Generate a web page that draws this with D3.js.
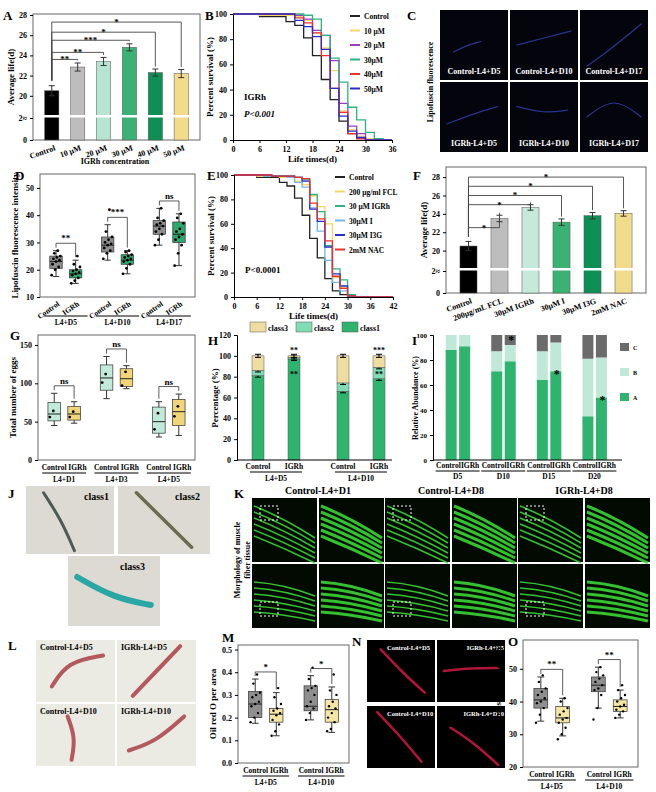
<!DOCTYPE html>
<html><head><meta charset="utf-8">
<script src="https://cdn.jsdelivr.net/npm/d3@7"></script>
<style>body{margin:0;background:#fff}text{font-family:"Liberation Serif",serif;font-weight:bold}</style>
</head><body>
<script>
// ---- data ----
var concCats = ["Control","10 μM","20 μM","30 μM","40 μM","50 μM"];
var concLife = [20.5,22.85,23.4,24.8,22.3,22.2];
var concErr = [0.5,0.4,0.4,0.35,0.35,0.4];
var concColors = ["#000","#bdbdbd","#b7e4d0","#3bb273","#0f8f55","#f1dc8c"];

var survNamesB = ["Control","10 μM","20 μM","30μM","40μM","50μM"];
var survColorsB = ["#222","#f7d56a","#9b3fc0","#2fb37f","#e8322f","#2b2fc8"];
var survB = [
 [[0,100],[6,98],[12,94],[14,91],[16,81],[18,67],[20,48],[22,32],[24,15],[26,5],[28,2],[30,0],[36,0]],
 [[0,100],[6,99],[14,98],[16,95],[18,85],[20,73],[22,55],[24,23],[26,8],[28,3],[30,1],[32,0],[36,0]],
 [[0,100],[14,99],[16,96],[18,87],[20,83],[22,63],[24,29],[26,11],[28,5],[30,0],[36,0]],
 [[0,100],[16,99],[18,96],[20,83],[22,65],[24,46],[26,26],[28,16],[30,6],[32,1],[34,0],[36,0]],
 [[0,100],[14,97],[16,93],[18,85],[20,67],[22,41],[24,22],[26,5],[28,1],[30,0],[36,0]],
 [[0,100],[14,95],[16,90],[18,82],[20,72],[22,41],[24,19],[26,7],[28,2],[30,0],[36,0]]
];
var survNamesE = ["Control","200 μg/ml FCL","30 μM IGRh","30μM I","30μM I3G","2mM NAC"];
var survColorsE = ["#222","#f7d56a","#2fb37f","#74b6ea","#2b2fc8","#e8322f"];
var survE = [
 [[0,100],[6,98],[12,94],[14,91],[16,81],[18,67],[20,48],[22,32],[24,15],[26,5],[28,2],[30,0],[42,0]],
 [[0,100],[6,99],[12,98],[16,95],[18,92],[20,83],[22,74],[24,60],[26,16],[28,8],[30,2],[32,0],[42,0]],
 [[0,100],[8,99],[16,98],[18,96],[20,84],[22,70],[24,42],[26,23],[28,14],[30,2],[32,0],[42,0]],
 [[0,100],[8,99],[14,98],[16,94],[18,90],[20,73],[22,54],[24,30],[26,12],[28,5],[30,0],[42,0]],
 [[0,100],[10,99],[16,98],[18,95],[20,72],[22,62],[24,41],[26,19],[28,9],[30,1],[32,0],[42,0]],
 [[0,100],[10,99],[16,98],[18,97],[20,77],[22,64],[24,46],[26,17],[28,7],[30,1],[32,0],[42,0]]
];

var treatCats = ["Control","200μg/mL FCL","30μM IGRh","30μM I","30μM I3G","2mM NAC"];
var treatLife = [20.5,23.5,24.7,23.1,23.8,24.05];
var treatErr = [0.5,0.35,0.3,0.35,0.35,0.3];
var treatColors = ["#000","#bdbdbd","#c6ead9","#3bb273","#0f8f55","#f1dc8c"];

// box stats: [min, q1, median, q3, max]
var lipoGroups = ["L4+D5","L4+D10","L4+D17"];
var lipoCtrl = [[17.5,20.5,23,25,27],[23.5,26.5,29,32,36.5],[29,33,36,38,42.5]];
var lipoIgrh = [[15,17,18.5,20,23.5],[18.5,22,23.5,25.5,27],[21.5,30,33,37.5,40.5]];
var lipoCtrlPts = [[18,20,21,22,23,23.5,24,24.5,25,26,27],[24,26,27,28,29,29.5,30,31,32,34,42],[29,31,33,34,35,36,36.5,37,38,39,42.5]];
var lipoIgrhPts = [[15,16,17,18,18.5,19,19.5,20,21,22,25],[18.5,20.5,22,23,23.5,24,24.5,25,25.5,26.5,27],[21.5,26,29,31,32,33,34,35,37,39,40.5]];
var lipoSig = ["**","***","ns"];

var eggGroups = ["L4+D1","L4+D3","L4+D5"];
var eggCtrl = [[45,51,60,75,87],[80,91,107,124,135],[30,35,50,69,76]];
var eggIgrh = [[48,52,60,70,76],[93,96,106,119,123],[32,45,63,79,86]];
var eggCtrlPts = [[56,64],[101,112],[40,61]];
var eggIgrhPts = [[56,63],[97,115],[57,70]];

var classNames = ["class1","class2","class3"];
var classColors = ["#2fb36f","#7fdcb4","#eedca0"];
var classBars = ["Control","IGRh","Control","IGRh"];
var classGroups = ["L4+D5","L4+D10"];
var class1 = [81,97,66,78];
var class2 = [5,1.5,8,11];
var class3 = [14,1.5,26,11];
var classSig = ["","**","","***"];

var abunCats = ["D5","D10","D15","D20"];
var abunA = [88,91,71,79,64,71,35,50];
var abunB = [12,9,16,13,23,23,46,32];
var abunC = [0,0,13,8,13,6,19,18];

var oilCtrl = [[0.175,0.2,0.26,0.315,0.37],[0.19,0.23,0.25,0.34,0.385]];
var oilIgrh = [[0.12,0.18,0.215,0.24,0.31],[0.135,0.18,0.235,0.28,0.335]];
var oilCtrlPts = [[0.18,0.2,0.22,0.25,0.26,0.27,0.29,0.3,0.31,0.35,0.39],[0.19,0.22,0.24,0.25,0.27,0.3,0.32,0.33,0.34,0.37,0.42]];
var oilIgrhPts = [[0.12,0.14,0.17,0.19,0.21,0.22,0.23,0.24,0.26,0.29,0.33],[0.14,0.15,0.18,0.2,0.22,0.24,0.25,0.27,0.3,0.32,0.39]];

var nileCtrl = [[34,38,40.5,44,47.5],[38,43,45,47.5,50.5]];
var nileIgrh = [[29.5,33.5,35,38.5,41],[35,37,38.5,40.5,43.5]];
var nileCtrlPts = [[33.5,36,38,39.5,40,41,42,43,44,46,48],[34.5,38,42,43.5,44,45,46,47,48,49,50.5]];
var nileIgrhPts = [[28.5,30,32,33.5,34.5,35,36,37,38,40,41],[35,36,37,37.5,38.5,39,40,41,42,43.5,45]];

// ---- drawing ----
var svg = d3.select("body").append("svg").attr("width",656).attr("height",792);

function txt(s,x,y,size,anchor,rot){
  var t = svg.append("text").attr("x",x).attr("y",y).text(s).attr("font-size",size||8)
    .attr("text-anchor",anchor||"start");
  if(rot) t.attr("transform","rotate("+rot+","+x+","+y+")");
  return t;
}
function styleAxis(g,fs){
  g.selectAll("text").attr("font-size",fs||8).attr("font-family","Liberation Serif").attr("font-weight","bold").attr("fill","#000");
  g.selectAll("path,line").attr("stroke","#000").attr("stroke-width",1);
}
function frame(x,y,w,h){
  svg.append("rect").attr("x",x).attr("y",y).attr("width",w).attr("height",h)
    .attr("fill","none").attr("stroke","#666").attr("stroke-width",1);
}

function barPanel(o){
  var x = d3.scaleBand().domain(o.cats).range([o.x,o.x+o.w]).padding(0.45);
  var y = d3.scaleLinear().domain([0,2,18,o.top]).range([o.y+o.h,o.y+o.h-22,o.y+o.h-24,o.y]);
  frame(o.x,o.y,o.w,o.h);
  o.cats.forEach(function(c,i){
    svg.append("rect").attr("x",x(c)).attr("width",x.bandwidth()).attr("y",y(o.vals[i]))
      .attr("height",y(0)-y(o.vals[i])).attr("fill",o.colors[i]).attr("stroke","#555").attr("stroke-width",0.5);
    var cx = x(c)+x.bandwidth()/2;
    svg.append("path").attr("d","M"+(cx-3)+","+y(o.vals[i]+o.errs[i])+"h6M"+cx+","+y(o.vals[i]+o.errs[i])+"V"+y(o.vals[i]-o.errs[i])+"M"+(cx-3)+","+y(o.vals[i]-o.errs[i])+"h6")
      .attr("stroke","#333").attr("fill","none");
    txt(c,cx+4,o.y+o.h+10,8,"end",-20);
  });
  svg.append("rect").attr("x",o.x+1).attr("y",y(2)-3).attr("width",o.w-2).attr("height",2.5).attr("fill","#fff");
  var ax = svg.append("g").attr("transform","translate("+o.x+",0)")
    .call(d3.axisLeft(y).tickValues([0,2,20,22,24,26,28]).tickSize(3).tickFormat(function(d){return d==2?"2≈":d;}));
  ax.select(".domain").remove();
  styleAxis(ax,8);
  var cx0 = x(o.cats[0])+x.bandwidth()/2;
  o.sigs.forEach(function(s){
    var cx = x(o.cats[s.to])+x.bandwidth()/2;
    svg.append("path").attr("d","M"+cx0+","+y(o.vals[0]+1)+"V"+y(s.lvl)+"H"+cx+"V"+y(o.vals[s.to]+o.errs[s.to]+0.25))
      .attr("stroke","#444").attr("fill","none").attr("stroke-width",0.9);
    txt(s.t,(cx0+cx)/2,y(s.lvl)+3,9,"middle");
  });
  txt("Average life(d)",o.x-19,o.y+o.h/2,9,"middle",-90);
}

function survPanel(o){
  var x = d3.scaleLinear().domain([0,o.xmax]).range([o.x,o.x+o.w]);
  var y = d3.scaleLinear().domain([0,100]).range([o.y+o.h,o.y]);
  var line = d3.line().x(function(d){return x(d[0]);}).y(function(d){return y(d[1]);}).curve(d3.curveStepAfter);
  o.series.forEach(function(s,i){
    svg.append("path").attr("d",line(s)).attr("fill","none").attr("stroke",o.colors[i]).attr("stroke-width",1.3);
  });
  var ax = svg.append("g").attr("transform","translate(0,"+(o.y+o.h)+")").call(d3.axisBottom(x).tickValues(o.xticks).tickSize(3));
  var ay = svg.append("g").attr("transform","translate("+o.x+",0)").call(d3.axisLeft(y).ticks(5).tickSize(3));
  styleAxis(ax,8); styleAxis(ay,8);
  txt("Percent survival (%)",o.x-20,o.y+o.h/2,9,"middle",-90);
  txt("Life times(d)",o.x+o.w/2,o.y+o.h+22,9,"middle");
  o.names.forEach(function(n,i){
    var ly = o.y+2+i*o.ldy;
    svg.append("line").attr("x1",o.lx).attr("x2",o.lx+10).attr("y1",ly).attr("y2",ly).attr("stroke",o.colors[i]).attr("stroke-width",2);
    svg.append("text").attr("x",o.lx+14).attr("y",ly+3).text(n).attr("font-size",7.5).attr("font-weight","normal");
  });
}

function boxPanel(o){
  var y = d3.scaleLinear().domain(o.dom).range([o.y+o.h,o.y]);
  frame(o.x,o.y,o.w,o.h);
  var gw = o.w/o.groups.length;
  var ay = svg.append("g").attr("transform","translate("+o.x+",0)").call(d3.axisLeft(y).tickValues(o.ticks).tickSize(3).tickFormat(o.fmt||null));
  ay.select(".domain").remove(); styleAxis(ay,8);
  txt(o.ylab,o.x-22,o.y+o.h/2,9,"middle",-90);
  o.groups.forEach(function(gname,gi){
    var gx = o.x+gw*gi+gw/2;
    [[o.ctrl[gi],o.ctrlPts[gi],o.cc,-1],[o.igrh[gi],o.igrhPts[gi],o.ic,1]].forEach(function(b){
      var s=b[0], cx = gx+b[3]*gw*0.19, bw = gw*0.24;
      svg.append("line").attr("x1",cx).attr("x2",cx).attr("y1",y(s[0])).attr("y2",y(s[4])).attr("stroke","#333");
      [s[0],s[4]].forEach(function(v){svg.append("line").attr("x1",cx-bw/4).attr("x2",cx+bw/4).attr("y1",y(v)).attr("y2",y(v)).attr("stroke","#333");});
      svg.append("rect").attr("x",cx-bw/2).attr("width",bw).attr("y",y(s[3])).attr("height",y(s[1])-y(s[3])).attr("fill",b[2]).attr("stroke","#333").attr("stroke-width",0.7);
      svg.append("line").attr("x1",cx-bw/2).attr("x2",cx+bw/2).attr("y1",y(s[2])).attr("y2",y(s[2])).attr("stroke","#222");
      b[1].forEach(function(v,k){
        svg.append("circle").attr("cx",cx+((k*37)%11-5)*bw*0.07).attr("cy",y(v)).attr("r",o.r||1.4).attr("fill","#000");
      });
      if(o.rotLab) txt(b[3]<0?"Control":"IGRh",cx+4,o.y+o.h+8,7.5,"end",-35);
    });
    if(!o.rotLab) txt("Control IGRh",gx,o.y+o.h+10,7.5,"middle");
    var ly = o.y+o.h+(o.rotLab?19:13);
    svg.append("line").attr("x1",gx-gw*0.42).attr("x2",gx+gw*0.42).attr("y1",ly).attr("y2",ly).attr("stroke","#000");
    txt(gname,gx,ly+9,7.5,"middle");
    if(o.sig){
      var top = Math.max(o.ctrl[gi][4],o.igrh[gi][4]);
      var sy = y(top)-o.h*0.06, x1=gx-gw*0.19, x2=gx+gw*0.19;
      svg.append("path").attr("d","M"+x1+","+(y(o.ctrl[gi][4])-3)+"V"+sy+"H"+x2+"V"+(y(o.igrh[gi][4])-3)).attr("stroke","#333").attr("fill","none").attr("stroke-width",0.8);
      txt(o.sig[gi],gx,sy-2,9,"middle").attr("font-weight","normal");
    }
  });
}

function photo(x,y,w,h,bg,worm,col,sw,lab,lcol){
  svg.append("rect").attr("x",x).attr("y",y).attr("width",w).attr("height",h).attr("fill",bg);
  if(worm) svg.append("path").attr("d",d3.line().curve(d3.curveBasis)(worm.map(function(p){return [x+p[0]*w,y+p[1]*h];})))
    .attr("fill","none").attr("stroke",col).attr("stroke-width",sw).attr("stroke-linecap","round");
  if(lab) txt(lab,x+w/2,y+h-6,8,"middle").attr("fill",lcol);
}

function letter(s,x,y){ txt(s,x,y,13).attr("font-weight","normal"); }

// A
letter("A",3,20);
barPanel({x:33,y:14,w:167,h:126,top:28.1,cats:concCats,vals:concLife,errs:concErr,colors:concColors,
  sigs:[{to:1,lvl:23.6,t:"**"},{to:2,lvl:24.3,t:"**"},{to:3,lvl:25.5,t:"***"},{to:4,lvl:26.3,t:"*"},{to:5,lvl:27.3,t:"*"}]});
txt("IGRh concentration",115,164,8,"middle");

// B
letter("B",205,20);
survPanel({x:233,y:14,w:159,h:126,xmax:36,xticks:[0,6,12,18,24,30,36],series:survB,names:survNamesB,colors:survColorsB,lx:350,ldy:14.5});
txt("IGRh",244,100,9).attr("font-weight","normal");
txt("P<0.001",244,117,9).attr("font-weight","normal").attr("font-style","italic");

// C
letter("C",407,20);
var cLab = ["Control-L4+D5","Control-L4+D10","Control-L4+D17","IGRh-L4+D5","IGRh-L4+D10","IGRh-L4+D17"];
var cWorm = [[[0.2,0.6],[0.4,0.5],[0.6,0.45]],[[0.1,0.5],[0.5,0.4],[0.9,0.3]],[[0.1,0.8],[0.4,0.6],[0.9,0.2]],[[0.1,0.6],[0.5,0.45],[0.85,0.35]],[[0.1,0.35],[0.5,0.45],[0.85,0.4]],[[0.1,0.5],[0.5,0.2],[0.9,0.5]]];
cLab.forEach(function(l,i){
  photo(440+(i%3)*70,10+Math.floor(i/3)*72,68,70,"#04040c",cWorm[i],"#2a3590",1.2,l,"#fff");
});
txt("Lipofuscin fluorescence",433,82,8,"middle",-90);

// D
letter("D",15,180);
boxPanel({x:40,y:174,w:155,h:123,dom:[10,55.1],ticks:[10,20,30,40,50],groups:lipoGroups,ctrl:lipoCtrl,igrh:lipoIgrh,
  ctrlPts:lipoCtrlPts,igrhPts:lipoIgrhPts,cc:"#8f8f8f",ic:"#2fa86e",sig:lipoSig,rotLab:true,ylab:"Lipofuscin fluorescence intensity"});

// E
letter("E",207,180);
survPanel({x:234,y:175,w:159,h:122,xmax:42,xticks:[0,6,12,18,24,30,36,42],series:survE,names:survNamesE,colors:survColorsE,lx:335,ldy:14.5});
txt("P<0.0001",245,273,9).attr("font-weight","normal");

// F
letter("F",413,180);
barPanel({x:446,y:167,w:200,h:126,top:29.1,cats:treatCats,vals:treatLife,errs:treatErr,colors:treatColors,
  sigs:[{to:1,lvl:22.5,t:"*"},{to:2,lvl:25.0,t:"*"},{to:3,lvl:26.0,t:"*"},{to:4,lvl:27.0,t:"*"},{to:5,lvl:28.0,t:"*"}]});

// G
letter("G",10,340);
boxPanel({x:38,y:335,w:157,h:125,dom:[0,163],ticks:[0,50,100,150],groups:eggGroups,ctrl:eggCtrl,igrh:eggIgrh,
  ctrlPts:eggCtrlPts,igrhPts:eggIgrhPts,cc:"#c2eadb",ic:"#f1d57a",sig:["ns","ns","ns"],ylab:"Total number of eggs"});

// H
letter("H",208,345);
(function(){
  var xs = [258,294,343,379];
  var y = d3.scaleLinear().domain([0,120]).range([460,335]);
  var stack = d3.stack().keys([0,1,2])(class1.map(function(v,i){return [v,class2[i],class3[i]];}));
  stack.forEach(function(layer,k){
    layer.forEach(function(d,i){
      svg.append("rect").attr("x",xs[i]-6).attr("width",12).attr("y",y(d[1])).attr("height",y(d[0])-y(d[1]))
        .attr("fill",classColors[k]).attr("stroke","#555").attr("stroke-width",0.5);
      svg.append("path").attr("d","M"+(xs[i]-3)+","+y(d[1]-1.5)+"h6M"+(xs[i]-3)+","+y(d[1]+1.5)+"h6M"+xs[i]+","+y(d[1]-1.5)+"V"+y(d[1]+1.5)).attr("stroke","#000");
    });
  });
  classSig.forEach(function(s,i){ if(s){ txt(s,xs[i],y(103),8,"middle").attr("font-weight","normal"); txt(s.slice(0,2),xs[i],y(80),8,"middle").attr("font-weight","normal");}});
  var ay = svg.append("g").attr("transform","translate(237,0)").call(d3.axisLeft(y).ticks(6).tickSize(3));
  styleAxis(ay,8);
  svg.append("line").attr("x1",237).attr("x2",392).attr("y1",460).attr("y2",460).attr("stroke","#000");
  classBars.forEach(function(b,i){ txt(b,xs[i],469,7.5,"middle"); });
  classGroups.forEach(function(g,i){
    var cx=(xs[2*i]+xs[2*i+1])/2;
    svg.append("line").attr("x1",cx-26).attr("x2",cx+26).attr("y1",472).attr("y2",472).attr("stroke","#000");
    txt(g,cx,481,7.5,"middle");
  });
  txt("Percentage  (%)",218,398,9,"middle",-90);
  [2,1,0].forEach(function(k,j){
    svg.append("rect").attr("x",250+j*46).attr("y",322).attr("width",16).attr("height",10).attr("fill",classColors[k]).attr("stroke","#555").attr("stroke-width",0.5);
    txt(classNames[k],268+j*46,331,8).attr("font-weight","normal");
  });
})();

// I
letter("I",412,345);
(function(){
  var xg = d3.scaleBand().domain(abunCats).range([436,622]).padding(0.08);
  var y = d3.scaleLinear().domain([0,100]).range([460,335]);
  var cols = ["#2fb36f","#bfe8d6","#6b6b6b"];
  abunA.forEach(function(a,i){
    var g = abunCats[Math.floor(i/2)], bx = xg(g)+6+(i%2)*13.5;
    var parts=[a,abunB[i],abunC[i]], base=0;
    parts.forEach(function(p,k){
      svg.append("rect").attr("x",bx).attr("width",11).attr("y",y(base+p)).attr("height",y(base)-y(base+p)).attr("fill",cols[k]);
      base+=p;
    });
  });
  var ay = svg.append("g").attr("transform","translate(433,0)").call(d3.axisLeft(y).ticks(5).tickSize(3));
  styleAxis(ay,7);
  svg.append("line").attr("x1",433).attr("x2",622).attr("y1",460).attr("y2",460).attr("stroke","#000");
  txt("*",xg("D10")+26,y(93),12,"middle");
  txt("*",xg("D15")+26,y(66),12,"middle");
  txt("*",xg("D20")+26,y(45),12,"middle");
  abunCats.forEach(function(g){
    var cx = xg(g)+18;
    txt("ControlIGRh",cx,468,7.5,"middle");
    svg.append("line").attr("x1",cx-22).attr("x2",cx+22).attr("y1",471).attr("y2",471).attr("stroke","#000");
    txt(g,cx,479,7.5,"middle");
  });
  ["C","B","A"].forEach(function(n,k){
    svg.append("rect").attr("x",620).attr("y",343+k*25).attr("width",9).attr("height",8).attr("fill",cols[2-k]);
    txt(n,633,350+k*25,6).attr("font-weight","normal");
  });
  txt("Relative Abundance (%)",418,398,8,"middle",-90);
})();

// J
letter("J",8,498);
var jBg = "#dcdad3";
photo(26,486,88,68,jBg,[[0.2,0.1],[0.4,0.5],[0.55,0.95]],"#4e5a55",3,null);
photo(118,486,92,68,jBg,[[0.2,0.1],[0.5,0.5],[0.8,0.9]],"#6c6d50",3.5,null);
photo(68,556,92,70,jBg,[[0.1,0.3],[0.5,0.6],[0.9,0.7]],"#2aa7a5",6,null);
txt("class1",84,500,10).attr("font-weight","normal");
txt("class2",175,500,10).attr("font-weight","normal");
txt("class3",120,570,10).attr("font-weight","normal");

// K
letter("K",234,498);
var kTitles = ["Control-L4+D1","Control-L4+D8","IGRh-L4+D8"];
kTitles.forEach(function(t,i){
  var kx = 252+i*133;
  txt(t,kx+66,494,10,"middle");
  for(var r=0;r<2;r++) for(var c=0;c<2;c++){
    var px=kx+c*67, py=498+r*66;
    svg.append("rect").attr("x",px).attr("y",py).attr("width",65).attr("height",64).attr("fill","#020a02");
    for(var s=0;s<6;s++){
      svg.append("path").attr("d","M"+(px+2)+","+(py+8+s*6+r*10)+"Q"+(px+32)+","+(py+20+s*6)+" "+(px+63)+","+(py+40+s*5-r*8))
        .attr("stroke","#3ee03a").attr("stroke-width",c?3:1.6).attr("fill","none").attr("opacity",0.85);
    }
    if(c==0) svg.append("rect").attr("x",px+8).attr("y",py+(r?38:8)).attr("width",18).attr("height",14).attr("fill","none").attr("stroke","#fff").attr("stroke-dasharray","2,2");
  }
});
txt("Morphology of muscle",240,560,8,"middle",-90);
txt("fiber tissue",250,560,8,"middle",-90);

// L
letter("L",8,650);
var lLab=["Control-L4+D5","IGRh-L4+D5","Control-L4+D10","IGRh-L4+D10"];
var lWorm=[[[0.2,0.75],[0.4,0.35],[0.85,0.25]],[[0.2,0.9],[0.5,0.5],[0.8,0.1]],[[0.4,0.2],[0.5,0.55],[0.45,0.9]],[[0.15,0.75],[0.5,0.6],[0.85,0.2]]];
lLab.forEach(function(l,i){
  var px=36+(i%2)*81, py=640+Math.floor(i/2)*64;
  photo(px,py,79,62,"#ecebe3",lWorm[i],"#b25a5e",4,null);
  txt(l,px+4,py+10,8);
});

// M
letter("M",222,642);
boxPanel({x:238,y:645,w:111,h:118,dom:[0,0.52],ticks:[0,0.1,0.2,0.3,0.4,0.5],fmt:d3.format(".1f"),groups:["L4+D5","L4+D10"],
  ctrl:oilCtrl,igrh:oilIgrh,ctrlPts:oilCtrlPts,igrhPts:oilIgrhPts,cc:"#8f8f8f",ic:"#f5e6a6",sig:["*","*"],ylab:"Oil red O per area",r:1.2});

// N
letter("N",352,646);
var nLab=["Control-L4+D5","IGRh-L4+D5","Control-L4+D10","IGRh-L4+D10"];
var nWorm=[[[0.2,0.15],[0.5,0.5],[0.85,0.85]],[[0.1,0.5],[0.5,0.45],[0.9,0.45]],[[0.15,0.1],[0.5,0.5],[0.8,0.9]],[[0.2,0.35],[0.55,0.6],[0.9,0.95]]];
nLab.forEach(function(l,i){
  var px=367+(i%2)*70, py=640+Math.floor(i/2)*66;
  photo(px,py,68,62,"#000",nWorm[i],"#b0163a",2.5,null);
  txt(l,px+(i%2?67:20),py+10,6.5,i%2?"end":"start").attr("fill","#fff");
});

// O
letter("O",508,646);
boxPanel({x:523,y:640,w:115,h:127,dom:[20,58.8],ticks:[20,30,40,50],groups:["L4+D5","L4+D10"],
  ctrl:nileCtrl,igrh:nileIgrh,ctrlPts:nileCtrlPts,igrhPts:nileIgrhPts,cc:"#8f8f8f",ic:"#f5e6a6",sig:["**","**"],ylab:"Nile red fluorescence intensity",r:1.2});
</script>
</body></html>
